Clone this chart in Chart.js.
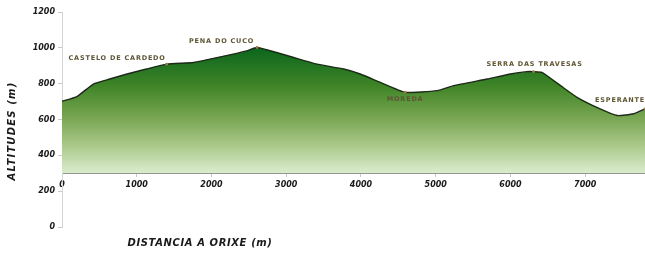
<!DOCTYPE html>
<html>
<head>
<meta charset="utf-8">
<script src="https://cdn.jsdelivr.net/npm/chart.js@4/dist/chart.umd.min.js"></script>
<style>
  html, body { margin: 0; padding: 0; background: #ffffff; }
  #wrap { width: 645px; height: 255px; position: relative; }
</style>
</head>
<body>
<div id="wrap"><canvas id="c"></canvas></div>
<script>
// ---- data ----
const distances = [0, 200, 420, 640, 870, 1130, 1400, 1760, 1980, 2290, 2470, 2610, 2870, 3100, 3410, 3770, 3990, 4260, 4590, 5020, 5240, 5690, 6000, 6220, 6310, 6420, 6670, 6890, 7200, 7430, 7650, 7800];
const altitudes = [702, 728, 798, 826, 854, 882, 909, 918, 937, 965, 983, 1002, 974, 946, 909, 882, 854, 807, 752, 761, 789, 826, 854, 867, 867, 863, 789, 724, 659, 622, 632, 659];
const placeNames = ['CASTELO DE CARDEDO', 'PENA DO CUCO', 'MOREDA', 'SERRA DAS TRAVESAS', 'ESPERANTE'];
const placeDistances = [1400, 2610, 4590, 6310, 7800];
const placeAltitudes = [909, 1002, 752, 867, 659];
const xTickValues = [0, 1000, 2000, 3000, 4000, 5000, 6000, 7000];
const yTickValues = [0, 200, 400, 600, 800, 1000, 1200];
const xTitle = 'DISTANCIA A ORIXE (m)';
const yTitle = 'ALTITUDES (m)';
const baseAltitude = 300;

// ---- label placement styles (not data) ----
const placeStyle = [
  { align: 'right', dx: -1, dy: -6 },
  { align: 'right', dx: -3, dy: -6 },
  { align: 'center', dx: 0, dy: 7 },
  { align: 'center', dx: 1, dy: -7 },
  { align: 'right', dx: 0, dy: -9 }
];

const points = distances.map((d, i) => ({ x: d, y: altitudes[i] }));

function areaGradient(context) {
  const chart = context.chart;
  const { ctx, chartArea, scales } = chart;
  if (!chartArea) return '#5a9a3a';
  const yTop = scales.y.getPixelForValue(1000);
  const yBot = scales.y.getPixelForValue(baseAltitude);
  const g = ctx.createLinearGradient(0, yTop, 0, yBot);
  g.addColorStop(0, '#0b661d');
  g.addColorStop(0.3, '#3f8427');
  g.addColorStop(0.55, '#76a450');
  g.addColorStop(0.78, '#aac98a');
  g.addColorStop(1, '#dcecce');
  return g;
}

const annotationPlugin = {
  id: 'places',
  afterDatasetsDraw(chart) {
    const { ctx, scales } = chart;
    ctx.save();
    ctx.font = 'bold 6.5px "DejaVu Sans"';
    ctx.letterSpacing = '0.8px';
    ctx.textBaseline = 'middle';
    placeNames.forEach((name, i) => {
      const px = scales.x.getPixelForValue(placeDistances[i]);
      const py = scales.y.getPixelForValue(placeAltitudes[i]);
      const st = placeStyle[i];
      ctx.fillStyle = '#9a7a45';
      ctx.beginPath();
      ctx.arc(px, py, 1.4, 0, Math.PI * 2);
      ctx.fill();
      ctx.fillStyle = '#5f5634';
      ctx.textAlign = st.align;
      ctx.fillText(name, px + st.dx, py + st.dy);
    });
    ctx.restore();
  },
  afterDraw(chart) {
    const { ctx } = chart;
    ctx.save();
    ctx.fillStyle = '#1a1a1a';
    ctx.font = 'italic bold 10px "DejaVu Sans"';
    ctx.letterSpacing = '0.6px';
    ctx.textAlign = 'center';
    ctx.textBaseline = 'middle';
    ctx.fillText(xTitle, 200, 243);
    ctx.translate(12, 131);
    ctx.rotate(-Math.PI / 2);
    ctx.font = 'italic bold 10px "DejaVu Sans"';
    ctx.letterSpacing = '1.2px';
    ctx.fillText(yTitle, 0, 0);
    ctx.restore();
  }
};

const tickFont = { family: '"DejaVu Sans"', size: 8, weight: 'bold', style: 'italic' };

new Chart(document.getElementById('c'), {
  type: 'line',
  data: {
    datasets: [{
      data: points,
      borderColor: '#1c2a18',
      borderWidth: 1.4,
      pointRadius: 0,
      tension: 0.15,
      fill: { value: baseAltitude },
      backgroundColor: areaGradient
    }]
  },
  options: {
    responsive: true,
    maintainAspectRatio: false,
    animation: false,
    layout: { padding: { top: 12, right: 0, bottom: 28, left: 0 } },
    plugins: { legend: { display: false }, tooltip: { enabled: false } },
    scales: {
      x: {
        type: 'linear',
        min: 0,
        max: 7800,
        position: { y: baseAltitude },
        afterBuildTicks(scale) { scale.ticks = xTickValues.map(v => ({ value: v })); },
        grid: { drawOnChartArea: false, tickLength: 3, color: '#c8c8c8' },
        border: { color: '#7a7a7a', width: 1 },
        ticks: {
          padding: 4,
          color: '#1a1a1a',
          font: tickFont,
          maxRotation: 0,
          callback: v => String(v)
        }
      },
      y: {
        type: 'linear',
        min: 0,
        max: 1200,
        afterBuildTicks(scale) { scale.ticks = yTickValues.map(v => ({ value: v })); },
        afterFit(scale) { scale.width = 62; },
        grid: { drawOnChartArea: false, tickLength: 4, color: '#c8c8c8' },
        border: { color: '#d4d4d4', width: 1 },
        ticks: {
          padding: 3,
          color: '#1a1a1a',
          font: tickFont,
          callback: v => String(v)
        }
      }
    }
  },
  plugins: [annotationPlugin]
});
</script>
</body>
</html>
